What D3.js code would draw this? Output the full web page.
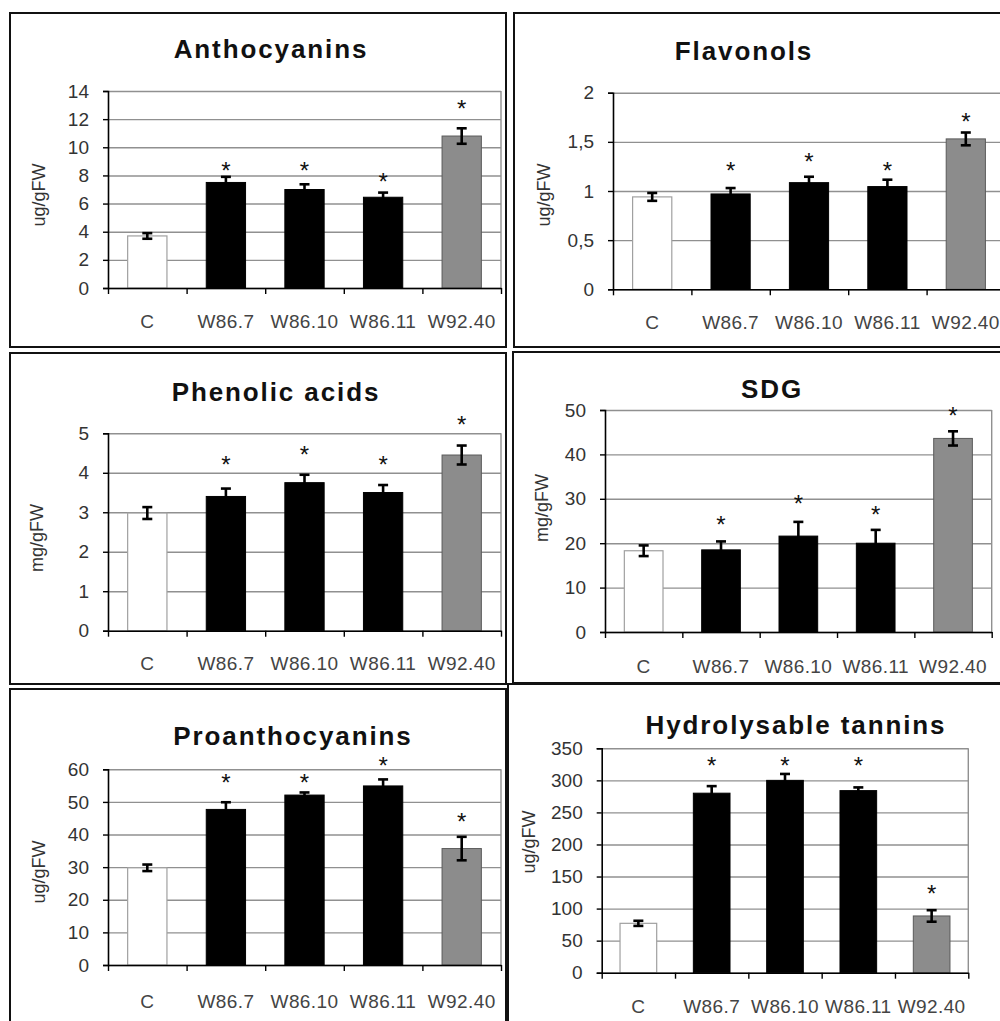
<!DOCTYPE html>
<html><head><meta charset="utf-8">
<script src="https://cdn.jsdelivr.net/npm/d3@7"></script>
<style>
body{margin:0;background:#fff}
svg{display:block}
text{font-family:"Liberation Sans",Arial,Helvetica,sans-serif}
</style>
</head><body>
<svg id="chart" width="1000" height="1021"></svg>
<script>
// ---------- data ----------
const categories = ["C", "W86.7", "W86.10", "W86.11", "W92.40"];

const anthoTitle = "Anthocyanins", anthoUnit = "ug/gFW";
const anthoValues = [3.7, 7.5, 7.0, 6.45, 10.8];
const anthoErrors = [0.2, 0.4, 0.37, 0.33, 0.55];
const anthoStars = [null, 8.74, 8.74, 7.96, 13.15];
const anthoTicks = [0, 2, 4, 6, 8, 10, 12, 14];
const anthoTickLabels = ["0", "2", "4", "6", "8", "10", "12", "14"];

const flavTitle = "Flavonols", flavUnit = "ug/gFW";
const flavValues = [0.94, 0.97, 1.085, 1.045, 1.53];
const flavErrors = [0.04, 0.06, 0.06, 0.07, 0.065];
const flavStars = [null, 1.264, 1.36, 1.27, 1.763];
const flavTicks = [0, 0.5, 1, 1.5, 2];
const flavTickLabels = ["0", "0,5", "1", "1,5", "2"];

const phenTitle = "Phenolic acids", phenUnit = "mg/gFW";
const phenValues = [2.98, 3.4, 3.75, 3.5, 4.45];
const phenErrors = [0.15, 0.2, 0.2, 0.19, 0.24];
const phenStars = [null, 4.37, 4.62, 4.37, 5.36];
const phenTicks = [0, 1, 2, 3, 4, 5];
const phenTickLabels = ["0", "1", "2", "3", "4", "5"];

const sdgTitle = "SDG", sdgUnit = "mg/gFW";
const sdgValues = [18.3, 18.5, 21.6, 20.0, 43.6];
const sdgErrors = [1.2, 1.9, 3.2, 3.0, 1.6];
const sdgStars = [null, 25.6, 30.2, 27.7, 50.2];
const sdgTicks = [0, 10, 20, 30, 40, 50];
const sdgTickLabels = ["0", "10", "20", "30", "40", "50"];

const proTitle = "Proanthocyanins", proUnit = "ug/gFW";
const proValues = [29.8, 47.7, 52.1, 54.9, 35.7];
const proErrors = [1.0, 2.2, 0.8, 2.0, 3.6];
const proStars = [null, 57.7, 57.7, 63.1, 45.7];
const proTicks = [0, 10, 20, 30, 40, 50, 60];
const proTickLabels = ["0", "10", "20", "30", "40", "50", "60"];

const hydTitle = "Hydrolysable tannins", hydUnit = "ug/gFW";
const hydValues = [77, 280, 300, 284, 88.5];
const hydErrors = [4, 11, 10, 5, 9];
const hydStars = [null, 331.8, 331.8, 331.8, 133.2];
const hydTicks = [0, 50, 100, 150, 200, 250, 300, 350];
const hydTickLabels = ["0", "50", "100", "150", "200", "250", "300", "350"];

// ---------- styles / layout ----------
const barFill = ["#ffffff", "#000000", "#000000", "#000000", "#8c8c8c"];
const barStroke = ["#a0a0a0", "#000000", "#000000", "#000000", "#5a5a5a"];

const panels = [
  {title: anthoTitle, unit: anthoUnit, values: anthoValues, errors: anthoErrors, stars: anthoStars, ticks: anthoTicks, tickLabels: anthoTickLabels,
   box: [10, 13, 506, 347], plot: [108, 91, 501, 288], titlePos: [271, 58], ylabPos: [40, 195], xlabPad: 27},
  {title: flavTitle, unit: flavUnit, values: flavValues, errors: flavErrors, stars: flavStars, ticks: flavTicks, tickLabels: flavTickLabels,
   box: [514, 13, 1012, 347], plot: [613, 92.7, 1005, 289.3], titlePos: [744, 60], ylabPos: [545, 195], xlabPad: 26},
  {title: phenTitle, unit: phenUnit, values: phenValues, errors: phenErrors, stars: phenStars, ticks: phenTicks, tickLabels: phenTickLabels,
   box: [10, 353, 506, 684], plot: [108, 433.3, 501, 630.7], titlePos: [276, 401], ylabPos: [38, 538], xlabPad: 26},
  {title: sdgTitle, unit: sdgUnit, values: sdgValues, errors: sdgErrors, stars: sdgStars, ticks: sdgTicks, tickLabels: sdgTickLabels,
   box: [513, 352, 1012, 683], plot: [605, 410, 991.7, 632], titlePos: [772, 398], ylabPos: [543, 508], xlabPad: 28},
  {title: proTitle, unit: proUnit, values: proValues, errors: proErrors, stars: proStars, ticks: proTicks, tickLabels: proTickLabels,
   box: [10, 689, 506, 1030], plot: [108, 769.3, 501, 965], titlePos: [293, 745], ylabPos: [40, 872], xlabPad: 30},
  {title: hydTitle, unit: hydUnit, values: hydValues, errors: hydErrors, stars: hydStars, ticks: hydTicks, tickLabels: hydTickLabels,
   box: [508, 684, 1012, 1030], plot: [601.7, 748.3, 968.3, 972.7], titlePos: [796, 734], ylabPos: [530, 842], xlabPad: 27}
];

const svg = d3.select("#chart");
svg.append("rect").attr("width", 1000).attr("height", 1021).attr("fill", "#fff");

panels.forEach(p => {
  const g = svg.append("g");
  const [bx0, by0, bx1, by1] = p.box;
  g.append("rect").attr("x", bx0).attr("y", by0).attr("width", bx1 - bx0).attr("height", by1 - by0)
    .attr("fill", "none").attr("stroke", "#111").attr("stroke-width", 2);

  const [L, T, R, B] = p.plot;
  const yMax = p.ticks[p.ticks.length - 1];
  const y = d3.scaleLinear().domain([0, yMax]).range([B, T]);
  const x = d3.scaleBand().domain(categories).range([L, R]).paddingInner(0.5).paddingOuter(0.25);
  const xb = d3.scaleLinear().domain([0, categories.length]).range([L, R]);

  // gridlines
  const grid = g.append("g").attr("transform", `translate(${L},0)`)
    .call(d3.axisLeft(y).tickValues(p.ticks).tickSize(-(R - L)).tickFormat(""));
  grid.select(".domain").remove();
  grid.selectAll("line").attr("stroke", "#909090").attr("stroke-width", 1.4);
  // right frame
  g.append("line").attr("x1", R).attr("x2", R).attr("y1", y(yMax)).attr("y2", y(0))
    .attr("stroke", "#909090").attr("stroke-width", 1.4);

  // bars
  g.selectAll("rect.bar").data(p.values).join("rect").attr("class", "bar")
    .attr("x", (d, i) => x(categories[i]))
    .attr("y", d => y(d))
    .attr("width", x.bandwidth())
    .attr("height", d => y(0) - y(d))
    .attr("fill", (d, i) => barFill[i])
    .attr("stroke", (d, i) => barStroke[i])
    .attr("stroke-width", (d, i) => i === 0 ? 1.2 : 1);

  // error bars
  const cap = 5;
  const eg = g.append("g").attr("stroke", "#000").attr("stroke-width", 2.6);
  p.values.forEach((v, i) => {
    const cx = x(categories[i]) + x.bandwidth() / 2;
    const e = p.errors[i];
    eg.append("line").attr("x1", cx).attr("x2", cx).attr("y1", y(v + e)).attr("y2", y(v - e));
    eg.append("line").attr("x1", cx - cap).attr("x2", cx + cap).attr("y1", y(v + e)).attr("y2", y(v + e));
    eg.append("line").attr("x1", cx - cap).attr("x2", cx + cap).attr("y1", y(v - e)).attr("y2", y(v - e));
  });

  // significance stars
  g.selectAll("text.star").data(p.stars.map((s, i) => ({s, i})).filter(d => d.s !== null)).join("text")
    .attr("class", "star")
    .attr("x", d => x(categories[d.i]) + x.bandwidth() / 2)
    .attr("y", d => y(d.s))
    .attr("dy", "0.6em")
    .attr("text-anchor", "middle")
    .attr("font-size", 24)
    .attr("fill", "#111")
    .text("*");

  // y axis
  const ya = g.append("g").attr("transform", `translate(${L},0)`)
    .call(d3.axisLeft(y).tickValues(p.ticks).tickSize(5).tickPadding(14).tickFormat((d, i) => p.tickLabels[i]));
  ya.select(".domain").attr("stroke", "#000").attr("stroke-width", 1.6);
  ya.selectAll("line").attr("stroke", "#000").attr("stroke-width", 1.4);
  ya.selectAll("text").attr("font-size", 19).attr("fill", "#333").attr("font-family", null);

  // x axis: boundary ticks + labels
  const xt = g.append("g").attr("transform", `translate(0,${B})`)
    .call(d3.axisBottom(xb).tickValues(d3.range(categories.length + 1)).tickSize(6).tickSizeOuter(0).tickFormat(""));
  xt.select(".domain").attr("stroke", "#000").attr("stroke-width", 1.6);
  xt.selectAll("line").attr("stroke", "#000").attr("stroke-width", 1.4);

  const xl = g.append("g").attr("transform", `translate(0,${B})`)
    .call(d3.axisBottom(x).tickSize(0).tickPadding(p.xlabPad));
  xl.select(".domain").remove();
  xl.selectAll("text").attr("font-size", 19).attr("fill", "#444").attr("letter-spacing", "0.4px").attr("font-family", null);

  // title
  g.append("text").attr("x", p.titlePos[0]).attr("y", p.titlePos[1])
    .attr("text-anchor", "middle").attr("font-size", 26).attr("font-weight", "bold")
    .attr("letter-spacing", "1.9px").attr("fill", "#111").text(p.title);

  // y label
  g.append("text").attr("transform", `translate(${p.ylabPos[0] + 4.5},${p.ylabPos[1]}) rotate(-90)`)
    .attr("text-anchor", "middle").attr("font-size", 18).attr("fill", "#333").text(p.unit);
});
</script>
</body></html>
